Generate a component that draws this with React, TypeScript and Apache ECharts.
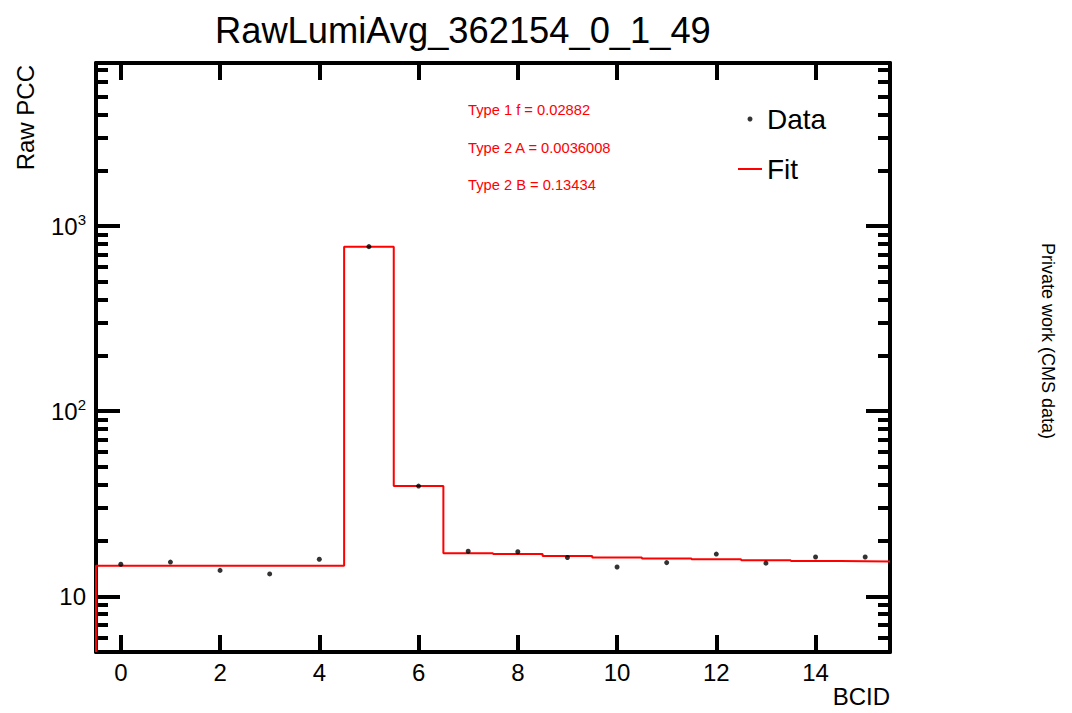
import React, { useEffect, useRef } from "react";
import * as echarts from "echarts";

const bcid = [0, 1, 2, 3, 4, 5, 6, 7, 8, 9, 10, 11, 12, 13, 14, 15];
const rawPCC = [14.9, 15.3, 13.8, 13.2, 15.85, 774, 39.4, 17.5, 17.4, 16.2, 14.4, 15.2, 16.9, 15.1, 16.3, 16.3];
const fitValues = [14.6, 14.6, 14.6, 14.6, 14.6, 774, 39.4, 17.1, 16.9, 16.5, 16.2, 16.0, 15.85, 15.65, 15.5, 15.4];
const xTicks = [0, 2, 4, 6, 8, 10, 12, 14];
const yMajor = [10, 100, 1000];
const yMinor = [6, 7, 8, 9, 20, 30, 40, 50, 60, 70, 80, 90, 200, 300, 400, 500, 600, 700, 800, 900, 2000, 3000, 4000, 5000, 6000, 7000];
const fitParams = ["Type 1 f = 0.02882", "Type 2 A = 0.0036008", "Type 2 B = 0.13434"];

const X_MIN = -0.5;
const X_MAX = 15.5;
const Y_MIN = 5;
const Y_MAX = 7600;
const FONT = "'Liberation Sans', Arial, Helvetica, sans-serif";

export default function App() {
  const ref = useRef<HTMLDivElement>(null);
  useEffect(() => {
    if (!ref.current) return;
    const chart = echarts.init(ref.current, undefined, { renderer: "svg" });

    // step histogram edges built from the fit values
    const fitLine: number[][] = [[X_MIN, Y_MIN]];
    bcid.forEach((b, i) => fitLine.push([b - 0.5, fitValues[i]]));
    fitLine.push([bcid[bcid.length - 1] + 0.5, fitValues[fitValues.length - 1]]);

    const yAxisBase = (pos: string, ticks: number[], len: number, labels: boolean, line: boolean) => ({
      type: "log",
      logBase: 10,
      min: Y_MIN,
      max: Y_MAX,
      position: pos,
      offset: 0,
      splitLine: { show: false },
      axisLine: { show: line, onZero: false, lineStyle: { color: "#000", width: 4 } },
      axisTick: { show: true, inside: true, length: len, customValues: ticks, lineStyle: { color: "#000", width: 4 } },
      axisLabel: labels
        ? {
            show: true,
            customValues: ticks,
            margin: 10,
            color: "#000",
            fontFamily: FONT,
            fontSize: 24,
            formatter: (v: number) => {
              const e = Math.round(Math.log10(v));
              if (e === 1) return "10";
              return `{b|10}{s|${e}}`;
            },
            rich: {
              b: { fontSize: 24, fontFamily: FONT, color: "#000" },
              s: { fontSize: 15, fontFamily: FONT, color: "#000", padding: [0, 0, 14, 0] },
            },
          }
        : { show: false },
    });

    const xAxisBase = (pos: string, labels: boolean) => ({
      type: "value",
      min: X_MIN,
      max: X_MAX,
      position: pos,
      offset: 0,
      splitLine: { show: false },
      axisLine: { show: true, onZero: false, lineStyle: { color: "#000", width: 4 } },
      axisTick: { show: true, inside: true, length: 17, customValues: xTicks, lineStyle: { color: "#000", width: 4 } },
      axisLabel: labels
        ? { show: true, customValues: xTicks, margin: 8, color: "#000", fontFamily: FONT, fontSize: 24 }
        : { show: false },
    });

    chart.setOption({
      animation: false,
      backgroundColor: "#fff",
      title: {
        text: "RawLumiAvg_362154_0_1_49",
        left: 210,
        top: 7,
        textStyle: { fontFamily: FONT, fontSize: 36.3, fontWeight: "normal", color: "#000" },
      },
      grid: { left: 96, right: 182, top: 63, bottom: 61, containLabel: false },
      xAxis: [xAxisBase("bottom", true), xAxisBase("top", false)],
      yAxis: [
        yAxisBase("left", yMajor, 24, true, true),
        yAxisBase("left", yMinor, 12, false, false),
        yAxisBase("right", yMajor, 24, false, true),
        yAxisBase("right", yMinor, 12, false, false),
      ],
      legend: {
        orient: "vertical",
        left: 737,
        top: 105,
        itemGap: 22,
        itemWidth: 24,
        itemHeight: 5,
        padding: 0,
        textStyle: { fontFamily: FONT, fontSize: 28, color: "#000" },
        data: [{ name: "Data", icon: "circle" }, { name: "Fit" }],
      },
      graphic: [
        ...fitParams.map((t, i) => ({
          type: "text",
          left: 468,
          top: 102.5 + i * 37.5,
          style: { text: t, fill: "#ff0000", font: `14.7px ${FONT}` },
        })),
        {
          type: "text",
          x: 25,
          y: 65,
          rotation: Math.PI / 2,
          style: { text: "Raw PCC", fill: "#000", font: `24px ${FONT}`, align: "right", verticalAlign: "middle" },
        },
        {
          type: "text",
          x: 890,
          y: 696,
          style: { text: "BCID", fill: "#000", font: `24px ${FONT}`, align: "right", verticalAlign: "middle" },
        },
        {
          type: "text",
          x: 1048,
          y: 341,
          rotation: -Math.PI / 2,
          style: { text: "Private work (CMS data)", fill: "#000", font: `18px ${FONT}`, align: "center", verticalAlign: "middle" },
        },
      ],
      series: [
        {
          name: "Fit",
          type: "line",
          step: "end",
          symbol: "none",
          xAxisIndex: 0,
          yAxisIndex: 0,
          data: fitLine,
          lineStyle: { color: "#ff0000", width: 2 },
          itemStyle: { color: "rgba(0,0,0,0)" },
          z: 2,
        },
        {
          name: "Data",
          type: "scatter",
          xAxisIndex: 0,
          yAxisIndex: 0,
          symbol: "circle",
          symbolSize: 5,
          data: bcid.map((b, i) => [b, rawPCC[i]]),
          itemStyle: { color: "#000" },
          z: 3,
        },
      ],
    });
    return () => chart.dispose();
  }, []);
  return <div ref={ref} style={{ width: 1072, height: 713, margin: -8 }} />;
}
